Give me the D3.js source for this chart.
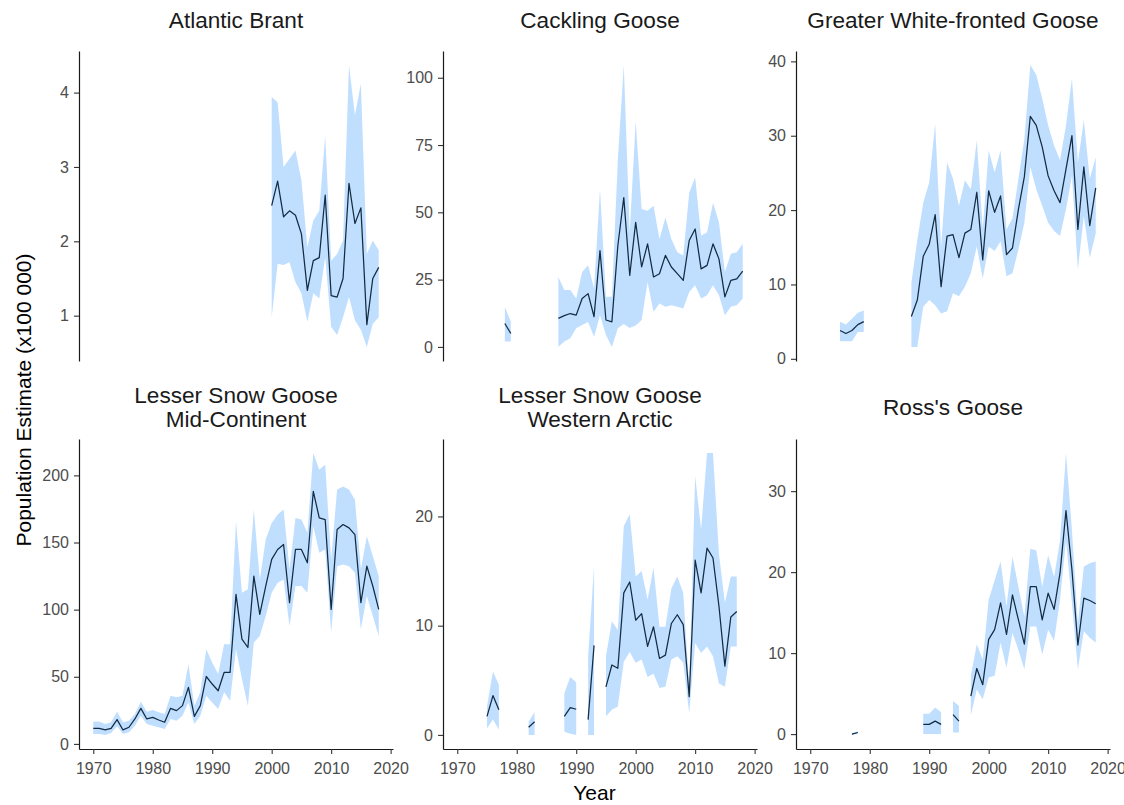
<!DOCTYPE html>
<html lang="en">
<head>
<meta charset="UTF-8">
<title>Goose population estimates</title>
<style>
    body { margin: 0; background: #fff; }
    svg { display: block; font-family: "Liberation Sans", Arial, sans-serif; }
</style>
</head>
<body>
<div id="chart"></div>
<script src="https://cdn.jsdelivr.net/npm/d3@7"></script>
<script>
// population estimate (x100 000), with lower / upper bounds of the ribbon
// gaps in the year lists are gaps in the survey

const brantYears = [2000, 2001, 2002, 2003, 2004, 2005, 2006, 2007, 2008, 2009, 2010, 2011, 2012, 2013, 2014, 2015, 2016, 2017, 2018]
const brantEst = [2.48, 2.81, 2.33, 2.41, 2.35, 2.10, 1.34, 1.74, 1.78, 2.62, 1.27, 1.25, 1.50, 2.78, 2.24, 2.45, 0.88, 1.50, 1.65]
const brantLo  = [0.98, 1.70, 1.68, 1.72, 1.45, 1.30, 0.92, 1.30, 1.23, 1.79, 0.85, 0.74, 0.98, 1.25, 0.94, 0.81, 0.58, 0.89, 0.98]
const brantHi  = [3.94, 3.87, 3.00, 3.11, 3.22, 2.82, 1.92, 2.28, 2.41, 3.42, 1.74, 1.83, 2.01, 4.37, 3.70, 4.12, 1.83, 2.01, 1.88]

const cacklingYears = [1978, 1979,
    1987, 1988, 1989, 1990, 1991, 1992, 1993, 1994, 1995, 1996, 1997, 1998, 1999, 2000, 2001, 2002,
    2003, 2004, 2005, 2006, 2007, 2008, 2009, 2010, 2011, 2012, 2013, 2014, 2015, 2016, 2017, 2018]
const cacklingEst = [8.7, 5.0,
    10.6, 11.6, 12.4, 11.8, 18.0, 19.8, 11.2, 35.8, 10.0, 9.3, 37.6, 55.5, 26.6, 46.3, 29.7, 38.3,
    26.0, 27.2, 34.0, 29.7, 27.2, 24.7, 39.5, 43.8, 29.0, 30.3, 38.3, 32.7, 18.6, 24.7, 25.3, 28.2]
const cacklingLo = [2.0, 2.0,
    0.1, 2.0, 3.2, 6.9, 8.1, 9.3, 3.8, 11.8, 4.4, 0.0, 6.9, 8.5, 7.0, 8.0, 10.0, 24.0,
    13.1, 16.1, 14.9, 15.5, 14.9, 14.3, 20.4, 22.9, 18.0, 19.2, 22.9, 19.2, 11.8, 14.9, 15.5, 18.0]
const cacklingHi = [14.9, 9.4,
    26.0, 21.1, 21.1, 18.0, 27.8, 30.3, 21.7, 58.6, 18.6, 18.6, 69.6, 104.7, 42.6, 83.8, 51.2, 50.6,
    52.4, 40.1, 48.1, 40.1, 35.2, 34.0, 57.3, 62.9, 41.3, 42.6, 53.6, 46.3, 27.8, 34.6, 35.2, 38.3]

const gwfgYears = [1975, 1976, 1977, 1978, 1979,
    1987, 1988, 1989, 1990, 1991, 1992, 1993, 1994, 1995, 1996, 1997, 1998, 1999, 2000, 2001, 2002,
    2003, 2004, 2005, 2006, 2007, 2008, 2009, 2010, 2011, 2012, 2013, 2014, 2015, 2016, 2017, 2018]
const gwfgEst = [3.8, 3.4, 3.8, 4.6, 5.0,
    5.7, 7.9, 13.8, 15.4, 19.4, 9.7, 16.5, 16.7, 13.6, 16.9, 17.4, 22.4, 13.3, 22.6, 19.7, 21.9,
    14.0, 14.9, 20.1, 24.5, 32.6, 31.4, 28.5, 24.6, 22.6, 21.0, 25.5, 30.0, 17.4, 25.8, 17.9, 23.0]
const gwfgLo = [2.35, 2.35, 2.35, 3.6, 3.6,
    1.6, 1.6, 7.0, 7.9, 7.2, 6.1, 6.4, 8.8, 8.4, 9.7, 11.5, 15.1, 10.8, 15.1, 14.5, 15.8,
    11.1, 11.5, 14.7, 18.3, 25.8, 22.8, 20.6, 18.3, 17.2, 16.5, 20.1, 24.6, 12.0, 19.2, 13.6, 16.9]
const gwfgHi = [5.0, 4.6, 5.4, 6.2, 6.5,
    10.2, 16.0, 21.0, 23.7, 31.6, 15.1, 26.4, 24.2, 20.6, 24.0, 22.8, 29.4, 17.5, 28.0, 25.1, 28.0,
    17.4, 18.9, 24.2, 29.6, 39.5, 38.2, 35.0, 31.4, 28.7, 26.7, 31.4, 37.7, 26.4, 32.1, 24.2, 27.1]

const midconYears = [1970, 1971, 1972, 1973, 1974, 1975, 1976, 1977, 1978, 1979,
    1980, 1981, 1982, 1983, 1984, 1985, 1986, 1987, 1988, 1989,
    1990, 1991, 1992, 1993, 1994, 1995, 1996, 1997, 1998, 1999,
    2000, 2001, 2002, 2003, 2004, 2005, 2006, 2007, 2008, 2009,
    2010, 2011, 2012, 2013, 2014, 2015, 2016, 2017, 2018]
const midconEst = [11.6, 11.6, 10.4, 11.6, 18.1, 10.4, 12.4, 18.6, 26.5, 18.6,
    19.8, 17.8, 16.1, 26.5, 24.8, 28.5, 42.1, 20.5, 28.5, 50.2,
    44.6, 39.6, 53.2, 53.2, 111.4, 78.0, 71.8, 125.0, 96.5, 117.6,
    137.4, 144.8, 148.5, 105.2, 144.8, 144.8, 134.9, 188.1, 168.3, 167.1,
    100.2, 159.7, 163.4, 160.9, 155.9, 105.2, 132.4, 117.6, 100.2]
const midconLo = [7.4, 7.4, 6.7, 8.2, 13.1, 7.4, 8.7, 13.6, 21.0, 14.9,
    13.6, 12.4, 11.1, 18.6, 17.3, 21.0, 30.9, 14.9, 21.0, 35.9,
    30.9, 26.0, 38.4, 32.2, 70.5, 48.3, 28.5, 75.5, 80.4, 95.3,
    112.6, 120.0, 122.5, 87.9, 117.6, 117.6, 112.6, 162.1, 142.3, 144.8,
    82.9, 132.4, 133.7, 132.4, 127.5, 85.4, 110.1, 95.3, 80.4]
const midconHi = [16.6, 16.6, 14.9, 16.1, 24.0, 16.1, 17.3, 22.3, 31.4, 24.0,
    25.2, 23.5, 22.3, 35.9, 34.7, 35.9, 59.4, 28.5, 38.4, 70.5,
    60.6, 52.0, 74.3, 74.3, 165.8, 112.6, 115.1, 174.5, 122.5, 152.2,
    164.6, 170.8, 174.5, 130.0, 168.3, 167.1, 157.2, 216.6, 204.2, 207.9,
    137.4, 189.4, 191.8, 189.4, 181.9, 130.0, 154.7, 139.9, 125.0]

const warcticYears = [1975, 1976, 1977, 1982, 1983, 1988, 1989, 1990, 1992, 1993,
    1995, 1996, 1997, 1998, 1999, 2000, 2001, 2002, 2003, 2004, 2005, 2006,
    2007, 2008, 2009, 2010, 2011, 2012, 2013, 2014, 2015, 2016, 2017]
const warcticEst = [1.7, 3.6, 2.3, 0.7, 1.2, 1.7, 2.5, 2.35, 1.4, 8.2,
    4.4, 6.4, 6.1, 13.0, 14.0, 10.5, 11.1, 8.1, 9.9, 7.0, 7.3, 10.2,
    11.0, 10.1, 3.5, 16.0, 13.0, 17.1, 16.2, 11.8, 6.3, 10.8, 11.3]
const warcticLo = [0.6, 1.4, 0.5, 0.0, 0.0, 0.3, 0.1, 0.0, 0.0, 0.0,
    1.7, 2.3, 2.6, 6.7, 7.6, 6.6, 6.9, 5.3, 5.6, 4.3, 4.4, 6.9,
    7.2, 6.6, 2.0, 8.4, 7.5, 8.1, 7.2, 4.7, 4.4, 8.1, 8.1]
const warcticHi = [2.6, 5.8, 4.6, 1.2, 2.1, 3.8, 5.3, 4.8, 7.2, 15.4,
    7.2, 10.4, 9.6, 19.1, 20.2, 14.5, 15.0, 12.4, 15.3, 9.9, 9.9, 13.4,
    14.5, 13.0, 4.4, 23.7, 18.8, 25.8, 25.8, 16.6, 12.1, 14.5, 14.5]

const rossYears = [1977, 1978, 1989, 1990, 1991, 1992, 1994, 1995,
    1997, 1998, 1999, 2000, 2001, 2002, 2003, 2004, 2005, 2006, 2007,
    2008, 2009, 2010, 2011, 2012, 2013, 2014, 2015, 2016, 2017, 2018]
const rossEst = [0.0, 0.2, 1.2, 1.2, 1.6, 1.2, 2.4, 1.6,
    4.7, 8.1, 6.1, 11.7, 12.9, 16.2, 12.3, 17.2, 14.1, 11.1, 18.2,
    18.2, 14.1, 17.4, 15.4, 19.9, 27.6, 20.3, 11.0, 16.8, 16.5, 16.1]
const rossLo = [-0.1, 0.05, 0.0, 0.0, 0.0, 0.0, 0.2, 0.2,
    2.3, 5.5, 4.3, 7.0, 7.2, 11.3, 8.2, 12.5, 10.4, 8.0, 13.3,
    13.3, 9.8, 12.9, 11.5, 16.6, 23.9, 16.2, 8.0, 12.7, 11.9, 11.3]
const rossHi = [0.1, 0.35, 2.5, 2.5, 3.3, 2.7, 4.1, 3.5,
    7.2, 11.1, 9.2, 16.6, 19.0, 21.3, 15.8, 21.9, 18.2, 14.5, 22.9,
    22.7, 18.2, 22.1, 19.4, 23.9, 34.7, 25.2, 13.7, 20.7, 21.1, 21.3]

// tick labels
const xTicks = [1970, 1980, 1990, 2000, 2010, 2020]
const brantTicks = [1, 2, 3, 4]
const cacklingTicks = [0, 25, 50, 75, 100]
const gwfgTicks = [0, 10, 20, 30, 40]
const midconTicks = [0, 50, 100, 150, 200]
const warcticTicks = [0, 10, 20]
const rossTicks = [0, 10, 20, 30]

// panel table built from the arrays above
let panels = [
    {title: ['Atlantic Brant'], years: brantYears, est: brantEst, lo: brantLo, hi: brantHi, ticks: brantTicks},
    {title: ['Cackling Goose'], years: cacklingYears, est: cacklingEst, lo: cacklingLo, hi: cacklingHi, ticks: cacklingTicks},
    {title: ['Greater White-fronted Goose'], years: gwfgYears, est: gwfgEst, lo: gwfgLo, hi: gwfgHi, ticks: gwfgTicks},
    {title: ['Lesser Snow Goose', 'Mid-Continent'], years: midconYears, est: midconEst, lo: midconLo, hi: midconHi, ticks: midconTicks},
    {title: ['Lesser Snow Goose', 'Western Arctic'], years: warcticYears, est: warcticEst, lo: warcticLo, hi: warcticHi, ticks: warcticTicks},
    {title: ["Ross's Goose"], years: rossYears, est: rossEst, lo: rossLo, hi: rossHi, ticks: rossTicks}
]

let w = 1124
let h = 805
let colLeft = [79, 443, 796]
let rowTop = [51, 439]
let pw = 314
let ph = 310

let ribbonFill = '#c0dfff'
let lineColor = '#132b43'
let tickText = '#4d4d4d'

let svg = d3.select('#chart').append('svg')
    .attr('width', w)
    .attr('height', h)

// split a panel into runs of consecutive years so gaps stay empty
function segments(p) {
    let segs = []
    let cur = []
    p.years.forEach((yr, j) => {
        if (cur.length && yr - cur[cur.length - 1].yr > 1) {
            segs.push(cur)
            cur = []
        }
        cur.push({yr: yr, est: p.est[j], lo: p.lo[j], hi: p.hi[j]})
    })
    if (cur.length) segs.push(cur)
    return segs
}

// shared x scale, padded 5% like ggplot
let allYears = panels.flatMap(p => p.years)
let xMin = d3.min(allYears)
let xMax = d3.max(allYears)
let xPad = (xMax - xMin) * 0.05
let xScale = d3.scaleLinear()
    .domain([xMin - xPad, xMax + xPad])
    .range([0, pw])

panels.forEach((p, i) => {
    let col = i % 3
    let row = Math.floor(i / 3)
    let g = svg.append('g')
        .attr('transform', `translate(${colLeft[col]}, ${rowTop[row]})`)

    // free y scale per panel
    let yMin = d3.min(p.lo)
    let yMax = d3.max(p.hi)
    let yPad = (yMax - yMin) * 0.05
    let yScale = d3.scaleLinear()
        .domain([yMin - yPad, yMax + yPad])
        .range([ph, 0])

    let area = d3.area()
        .x(d => xScale(d.yr))
        .y0(d => yScale(d.lo))
        .y1(d => yScale(d.hi))

    let line = d3.line()
        .x(d => xScale(d.yr))
        .y(d => yScale(d.est))

    let segs = segments(p)

    g.selectAll('path.ribbon')
        .data(segs)
        .enter()
        .append('path')
        .attr('class', 'ribbon')
        .attr('d', area)
        .attr('fill', ribbonFill)

    g.selectAll('path.est')
        .data(segs)
        .enter()
        .append('path')
        .attr('class', 'est')
        .attr('d', line)
        .attr('fill', 'none')
        .attr('stroke', lineColor)
        .attr('stroke-width', 1.25)
        .attr('stroke-linejoin', 'round')

    // y axis
    let yAxis = d3.axisLeft(yScale)
        .tickValues(p.ticks)
        .tickFormat(d3.format('~g'))
        .tickSize(5)
        .tickPadding(5)
        .tickSizeOuter(0)
    let ya = g.append('g').call(yAxis)
    ya.select('.domain').attr('stroke', '#1a1a1a').attr('stroke-width', 1.2)
    ya.selectAll('.tick line').attr('stroke', '#333').attr('stroke-width', 1.1)
    ya.selectAll('.tick text')
        .attr('fill', tickText)
        .attr('font-size', 16)
        .attr('font-family', '"Liberation Sans", Arial, sans-serif')

    // x axis only on the bottom row
    if (row === 1) {
        let xAxis = d3.axisBottom(xScale)
            .tickValues(xTicks)
            .tickFormat(d3.format('d'))
            .tickSize(5)
            .tickPadding(9)
            .tickSizeOuter(0)
        let xa = g.append('g')
            .attr('transform', `translate(0, ${ph})`)
            .call(xAxis)
        xa.select('.domain').attr('stroke', '#1a1a1a').attr('stroke-width', 1.2)
        xa.selectAll('.tick line').attr('stroke', '#333').attr('stroke-width', 1.1)
        xa.selectAll('.tick text')
            .attr('fill', tickText)
            .attr('font-size', 16)
            .attr('font-family', '"Liberation Sans", Arial, sans-serif')
    }

    // strip title (one or two lines)
    let cx = colLeft[col] + pw / 2
    let base = row === 0 ? 28 : (p.title.length === 2 ? 403 : 415)
    p.title.forEach((t, k) => {
        svg.append('text')
            .attr('x', cx)
            .attr('y', base + k * 24)
            .attr('text-anchor', 'middle')
            .attr('font-size', 22.6)
            .attr('fill', '#1a1a1a')
            .text(t)
    })
})

// axis titles
svg.append('text')
    .attr('x', (colLeft[0] + colLeft[2] + pw) / 2)
    .attr('y', 800)
    .attr('text-anchor', 'middle')
    .attr('font-size', 21)
    .attr('fill', '#000')
    .text('Year')

svg.append('text')
    .attr('transform', `translate(31, ${(rowTop[0] + rowTop[1] + ph) / 2}) rotate(-90)`)
    .attr('text-anchor', 'middle')
    .attr('font-size', 21)
    .attr('fill', '#000')
    .text('Population Estimate (x100 000)')
</script>
</body>
</html>
